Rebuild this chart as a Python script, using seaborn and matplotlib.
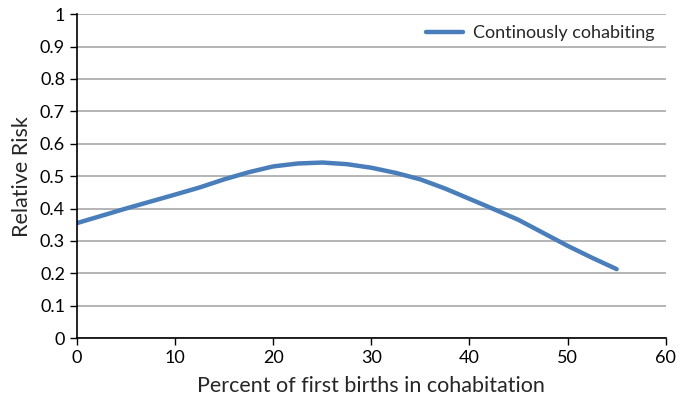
import matplotlib
matplotlib.use("Agg")
import matplotlib.pyplot as plt
import seaborn as sns
import pandas as pd

pct = [0, 5, 10, 12.5, 15, 17.5, 20, 22.5, 25, 27.5, 30, 32.5, 35, 37.5, 40, 42.5, 45, 47.5, 50, 52.5, 55]
risk = [0.355, 0.400, 0.443, 0.465, 0.490, 0.512, 0.530, 0.539, 0.542, 0.537, 0.526, 0.510,
        0.490, 0.462, 0.430, 0.398, 0.365, 0.325, 0.285, 0.248, 0.213]
series_name = "Continously cohabiting"
x_ticks = [0, 10, 20, 30, 40, 50, 60]
y_ticks = [0, 0.1, 0.2, 0.3, 0.4, 0.5, 0.6, 0.7, 0.8, 0.9, 1]
y_labels = ["0", "0.1", "0.2", "0.3", "0.4", "0.5", "0.6", "0.7", "0.8", "0.9", "1"]

df = pd.DataFrame({"x": pct, "y": risk, "s": series_name})

sns.set_style("white")
plt.rcParams["font.family"] = ["Lato", "DejaVu Sans"]

fig = plt.figure(figsize=(6.8, 4.04), dpi=100)
ax = fig.add_axes([0.113, 0.163, 0.866, 0.802])

sns.lineplot(data=df, x="x", y="y", hue="s", palette=["#4a7ebb"], linewidth=3.2,
             ax=ax, solid_capstyle="round", solid_joinstyle="round")

ax.set_xlim(0, 60)
ax.set_ylim(0, 1)
ax.set_xticks(x_ticks)
ax.set_yticks(y_ticks)
ax.set_yticklabels(y_labels)
ax.yaxis.grid(True, color="#a0a0a0", linewidth=1.1)
ax.xaxis.grid(False)
ax.set_axisbelow(True)
for s in ["top", "right"]:
    ax.spines[s].set_visible(False)
for s in ["left", "bottom"]:
    ax.spines[s].set_color("black")
    ax.spines[s].set_linewidth(1.2)
ax.tick_params(axis="both", direction="out", length=5, width=1, color="black",
               labelsize=13, labelcolor="black", bottom=True, left=True)
ax.set_xlabel("Percent of first births in cohabitation", fontsize=15.5, labelpad=7)
ax.set_ylabel("Relative Risk", fontsize=15.5, labelpad=6)

leg = ax.legend(loc="upper right", frameon=False, fontsize=13, handlelength=2.1,
                handletextpad=0.55, bbox_to_anchor=(1.0, 1.0), borderaxespad=0.2)
for line in leg.get_lines():
    line.set_linewidth(3.2)

fig.savefig("out.png", dpi=100)
